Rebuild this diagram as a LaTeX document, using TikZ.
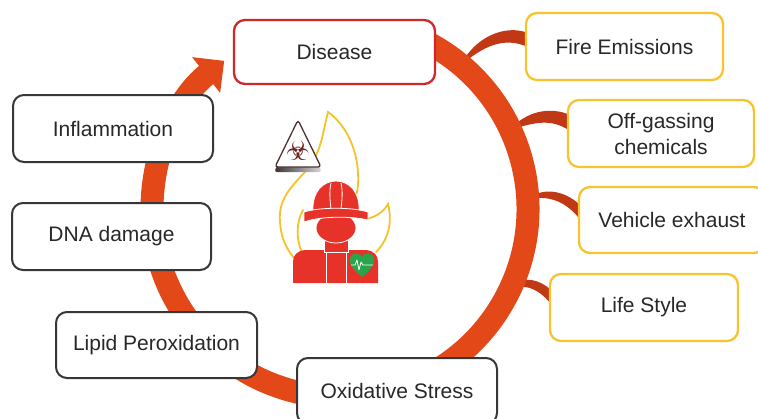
\documentclass[tikz,border=0pt]{standalone}
\usepackage{fontspec}
\setmainfont{Liberation Sans}
\newfontfamily\symfont{DejaVu Sans}
\usetikzlibrary{arrows.meta,calc}

\definecolor{ringcol}{RGB}{227,72,25}
\definecolor{branchcol}{RGB}{192,57,20}
\definecolor{boxdark}{RGB}{55,55,55}
\definecolor{boxred}{RGB}{204,40,46}
\definecolor{boxyellow}{RGB}{247,196,48}
\definecolor{txt}{RGB}{40,40,40}
\definecolor{firered}{RGB}{230,50,40}
\definecolor{heartgreen}{RGB}{40,165,75}
\definecolor{flameyellow}{RGB}{245,195,40}
\definecolor{biocol}{RGB}{110,35,35}
\definecolor{signedge}{RGB}{80,50,50}

\pgfdeclarelayer{bg}
\pgfsetlayers{bg,main}

\tikzset{
  box/.style={rectangle, rounded corners=11pt, line width=2pt, fill=white,
    outer sep=0pt, inner sep=0pt, align=center, text=txt,
    font=\fontsize{21}{26}\selectfont},
  darkbox/.style={box, draw=boxdark},
  redbox/.style={box, draw=boxred, line width=2.3pt},
  yellowbox/.style={box, draw=boxyellow, line width=2.3pt},
  ring/.style={draw=ringcol, line width=23pt,
    -{Triangle[width=44pt,length=23pt]}},
  branch/.style={fill=branchcol},
  flame/.style={draw=flameyellow, line width=1.8pt, line cap=round},
  outline/.style={draw=white, line width=0.8pt},
}

\begin{document}
\begin{tikzpicture}[x=1pt,y=-1pt]
\clip (0,0) rectangle (758,418);

% cycle boxes
\node[redbox,  minimum width=201pt, minimum height=64pt] (disease) at (334.5,52) {Disease};
\node[darkbox, minimum width=200pt, minimum height=67pt] (inflam)  at (113,128.5) {Inflammation};
\node[darkbox, minimum width=199pt, minimum height=67pt] (dna)     at (111.5,236.5) {DNA damage};
\node[darkbox, minimum width=201pt, minimum height=66pt] (lipid)   at (156.5,345) {Lipid Peroxidation};
\node[darkbox, minimum width=200pt, minimum height=66pt] (oxid)    at (397,391) {Oxidative Stress};

% exposure sources
\node[yellowbox, minimum width=197pt, minimum height=67pt] (fire)    at (624.5,46.5) {Fire Emissions};
\node[yellowbox, minimum width=186pt, minimum height=67pt] (offgas)  at (661,133.5) {Off-gassing\\chemicals};
\node[yellowbox, minimum width=186pt, minimum height=66pt] (vehicle) at (672,220) {Vehicle exhaust};
\node[yellowbox, minimum width=188pt, minimum height=67pt] (life)    at (644,307.5) {Life Style};

\begin{pgfonlayer}{bg}
  \coordinate (hub) at (340,209);
  \path (hub) ++(-50:188) coordinate (r1);
  \path (hub) ++(-25:188) coordinate (r2);
  \path (hub) ++(-3:188)  coordinate (r3);
  \path (hub) ++(25:188)  coordinate (r4);

  % tapered branches from the ring to each source
  \fill[branch] (r1) .. controls +(14,-28) and +(-23,-9) .. ($(fire.west)+(2,-13.5)$)
     -- ($(fire.west)+(2,0.5)$) .. controls +(-25,-11) and +(22,-18) .. (r1) -- cycle;
  \fill[branch] (r2) .. controls +(15,-18) and +(-20,-9) .. ($(offgas.west)+(2,-18.5)$)
     -- ($(offgas.west)+(2,-2.5)$) .. controls +(-20,-14) and +(22,-6) .. (r2) -- cycle;
  \fill[branch] (r3) .. controls +(17,-14) and +(-14,-15) .. ($(vehicle.west)+(3,-13)$)
     -- ($(vehicle.west)+(3,2)$) .. controls +(-16,-22) and +(20,-4) .. (r3) -- cycle;
  \fill[branch] (r4) .. controls +(11,-15) and +(-11,-12) .. ($(life.west)+(3,-15.5)$)
     -- ($(life.west)+(3,-0.5)$) .. controls +(-13,-19) and +(13,-5) .. (r4) -- cycle;

  % the cycle ring, ending in an arrow pointing at Disease
  \draw[ring] (hub) ++(-62:188) arc[start angle=-62, end angle=232, radius=188];
\end{pgfonlayer}

% flame outline behind the firefighter
\draw[flame] (294,258) .. controls (286,248) and (281,238) .. (280,222)
  .. controls (278,200) and (290,188) .. (305,172)
  .. controls (322,152) and (322,135) .. (328,112)
  .. controls (345,124) and (360,150) .. (358,185)
  .. controls (357,195) and (355,200) .. (352,206);
\draw[flame] (366,219) .. controls (375,217) and (383,213) .. (388,204)
  .. controls (392,220) and (390,238) .. (376,252);
\draw[flame] (303,210) .. controls (296,222) and (296,240) .. (302,252);

% biohazard warning sign
\shade[left color=black!80, right color=black!15, rounded corners=3pt]
  (298,124) -- (322,172) -- (274,172) -- cycle;
\draw[fill=white, draw=signedge, line width=1.3pt, rounded corners=3pt]
  (298,120) -- (321,167) -- (275,167) -- cycle;
\node[text=biocol, inner sep=0pt, font=\symfont\fontsize{27}{27}\selectfont] (bio) at (298,151) {☣};

% firefighter
\fill[firered] (293,283) -- (293,262) .. controls (293,255) and (297,251) .. (305,250)
  -- (366,250) .. controls (374,251) and (378,255) .. (378,262) -- (378,283) -- cycle;
\draw[outline] (326,252) -- (326,283);
\draw[outline] (346,252) -- (346,283);
\filldraw[fill=firered, outline] (324,236) -- (348,236) -- (348,252) -- (324,252) -- cycle;
\filldraw[fill=firered, outline] (336,228) ellipse [x radius=20, y radius=15];
\filldraw[fill=firered, outline] (313,211) .. controls (312,192) and (323,181) .. (336,181)
  .. controls (349,181) and (360,192) .. (359,211) -- cycle;
\draw[outline] (331,183) .. controls (329,192) and (330,200) .. (331,209);
\draw[outline] (341,183) .. controls (343,192) and (342,200) .. (341,209);
\filldraw[fill=firered, outline] (304,212) .. controls (320,207) and (352,207) .. (368,212)
  -- (368,220) .. controls (352,216) and (320,216) .. (304,222) -- cycle;

% heart with pulse trace
\fill[heartgreen] (362,277) .. controls (352,269) and (349,263) .. (350,258)
  .. controls (351,253) and (359,251) .. (362,257)
  .. controls (365,251) and (373,253) .. (374,258)
  .. controls (375,263) and (372,269) .. (362,277) -- cycle;
\draw[white, line width=0.8pt, line join=round] (351,265) -- (355,265) -- (357,260) -- (359,270)
  -- (361,262) -- (363,265) -- (373,265);
\end{tikzpicture}
\end{document}
